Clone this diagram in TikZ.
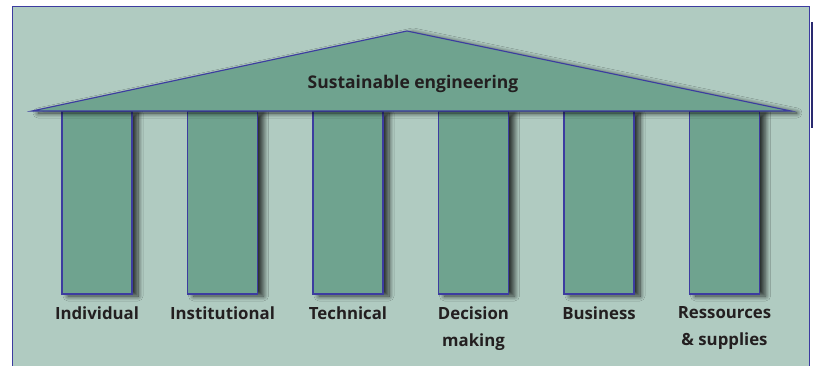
\documentclass[tikz,border=0pt]{standalone}
\usepackage{fontspec}
\setmainfont{Open Sans}
\usetikzlibrary{positioning,shadows.blur}

\definecolor{panelbg}{HTML}{B0CBC1}
\definecolor{stonegreen}{HTML}{6FA38F}
\definecolor{edgeblue}{HTML}{3C3CA0}
\definecolor{inkdark}{HTML}{231F20}

\tikzset{
  stoneshadow/.style={blur shadow={shadow xshift=6pt, shadow yshift=-2pt, shadow blur radius=5pt, shadow blur steps=10, shadow opacity=75}},
  pillar/.style={draw=edgeblue, fill=stonegreen, line width=1.1pt, minimum width=70pt, minimum height=183pt, inner sep=0pt, stoneshadow},
  pillarlabel/.style={font=\bfseries\fontsize{16.8}{27}\selectfont, text=inkdark, align=center, inner sep=0pt, below=12pt of #1}
}

\begin{document}
\begin{tikzpicture}[x=1pt, y=-1pt]
\useasboundingbox (0,0) rectangle (814,365);
\fill[panelbg] (12,6) rectangle (809.5,380);
\draw[edgeblue, line width=0.9pt] (12,380) -- (12,6) -- (809.5,6) -- (809.5,380);
\draw[edgeblue!70!black, line width=2pt] (811.5,22) -- (811.5,128);

\node[pillar] (individual) at (97,202.5) {};
\node[pillar] (institutional) at (222.5,202.5) {};
\node[pillar] (technical) at (348,202.5) {};
\node[pillar] (decision) at (473.5,202.5) {};
\node[pillar] (business) at (599,202.5) {};
\node[pillar] (resources) at (724.5,202.5) {};

\draw[edgeblue, fill=stonegreen, line width=1.1pt, stoneshadow] (32,111) -- (407,31) -- (791,111) -- cycle;
\node[font=\bfseries\fontsize{17.5}{20}\selectfont, text=inkdark, anchor=base] (roof) at (413,88) {Sustainable engineering};

\node[pillarlabel=individual] (individuallabel) {Individual};
\node[pillarlabel=institutional] (institutionallabel) {Institutional};
\node[pillarlabel=technical] (technicallabel) {Technical};
\node[pillarlabel=decision] (decisionlabel) {Decision\\making};
\node[pillarlabel=business] (businesslabel) {Business};
\node[pillarlabel=resources] (resourceslabel) {Ressources\\\& supplies};
\end{tikzpicture}
\end{document}
